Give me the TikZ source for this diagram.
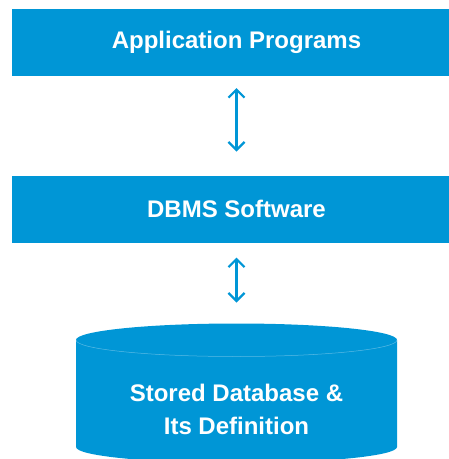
\documentclass[tikz,border=0pt]{standalone}
\usepackage{fontspec}
\setmainfont{Liberation Sans}
\usetikzlibrary{calc,arrows.meta}
\definecolor{dbblue}{RGB}{0,150,214}
\tikzset{
      layerbox/.style={
          rectangle,
          fill=dbblue,
          inner sep=0pt,
          outer sep=0pt,
          minimum width=449pt,
          minimum height=67pt,
          text=white,
          font=\bfseries\fontsize{24}{28}\selectfont
      },
      dblabel/.style={
          align=center,
          text=white,
          font=\bfseries\fontsize{24}{33}\selectfont
      },
      dbarrow/.style={
          draw=dbblue,
          line width=2.2pt,
          {Straight Barb[length=8pt,width=16pt]}-{Straight Barb[length=8pt,width=16pt]}
      }
  }
\begin{document}
\begin{tikzpicture}[x=1pt,y=1pt]
    \useasboundingbox (0,0) rectangle (449,-459);
    \clip (0,0) rectangle (449,-459);

    \node [layerbox] (apps) at (236.5,-42.5) {Application Programs};
    \node [layerbox] (dbms) at (236.5,-209) {DBMS Software};

    %% stored database drum
    \fill[dbblue] (76,-340) -- (76,-447) arc[start angle=180, end angle=360, x radius=160.5, y radius=16]
        -- (397,-340) arc[start angle=0, end angle=180, x radius=160.5, y radius=16.5] -- cycle;
    \draw[white, opacity=0.35, line width=0.5pt] (76,-340) arc[start angle=180, end angle=360, x radius=160.5, y radius=16.5];
    \coordinate (dbtop) at (236.5,-323.5);
    \node [dblabel] (db) at (236.5,-409) {Stored Database \&\\Its Definition};

    \draw[dbarrow] ($(apps.south)+(0,-12)$) -- ($(dbms.north)+(0,24)$);
    \draw[dbarrow] ($(dbms.south)+(0,-15)$) -- ($(dbtop)+(0,21)$);
\end{tikzpicture}
\end{document}
